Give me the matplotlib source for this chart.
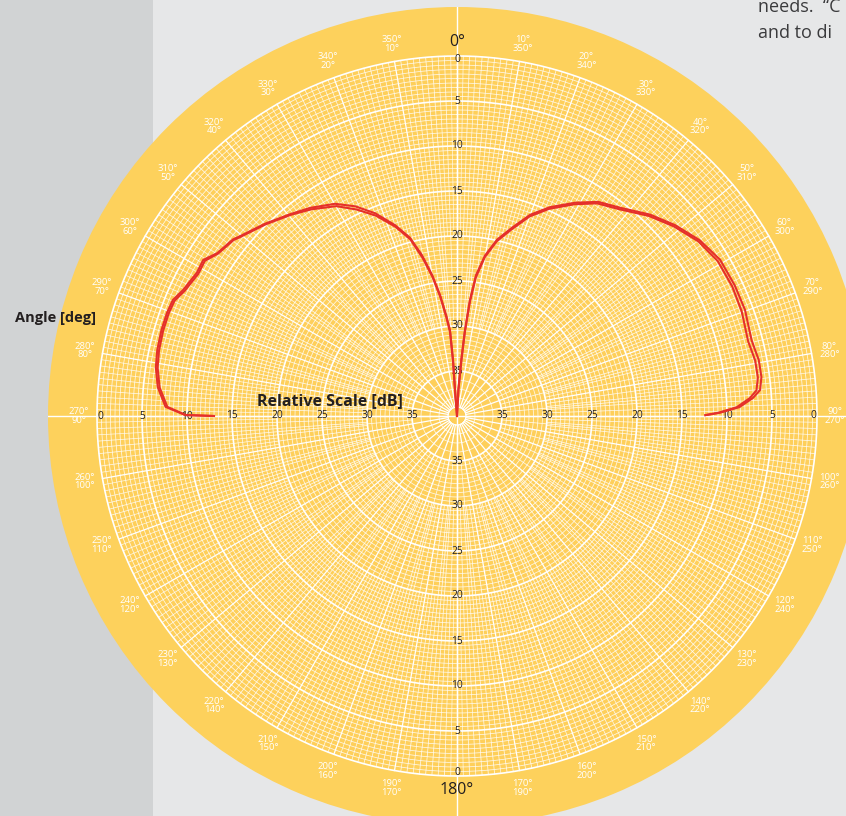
import numpy as np
import matplotlib
matplotlib.use("Agg")
import matplotlib.pyplot as plt
from matplotlib.patches import Rectangle

plt.rcParams["font.family"] = ["Open Sans", "DejaVu Sans"]

# ---- measured pattern (angle in deg, negative = left of boresight; level in dB below peak scale)
left_angle = [-90.0, -89.8, -88.2, -84.5, -80.8, -77.6, -73.8, -70.4, -67.8, -65.3,
              -61.2, -58.4, -55.8, -51.8, -50.3, -45.0, -39.6, -35.2, -29.9, -25.9,
              -22.0, -18.0, -14.8, -12.3, -10.0, -8.0, -6.2, -4.7, -4.1, -4.4, 0.0]
left_db_a = [13.0, 9.8, 7.6, 6.6, 6.1, 5.9, 5.8, 5.8, 5.9, 6.5,
             7.0, 6.9, 7.8, 8.3, 8.7, 9.8, 10.9, 11.7, 12.8, 14.1,
             15.7, 17.7, 19.5, 21.7, 24.1, 26.4, 28.7, 30.4, 33.8, 37.1, 40.0]
left_db_b = [13.0, 9.9, 7.8, 6.8, 6.3, 6.1, 6.0, 6.0, 6.1, 6.7,
             7.2, 7.1, 7.9, 8.4, 8.8, 9.9, 11.0, 11.9, 13.1, 14.5,
             16.0, 17.9, 19.7, 22.0, 24.3, 26.6, 28.9, 30.7, 34.0, 37.3, 40.0]

right_angle = [0.0, 3.0, 4.5, 5.3, 6.4, 7.7, 9.9, 12.8, 16.3, 20.0,
               24.0, 29.0, 33.4, 38.1, 43.8, 48.8, 54.1, 59.3, 64.8, 69.8,
               75.6, 79.5, 82.7, 85.1, 86.5, 88.2, 89.3, 89.8]
right_db_a = [40.0, 37.0, 33.5, 30.4, 27.0, 24.2, 21.9, 19.9, 18.2, 16.2,
              14.6, 12.9, 11.5, 10.6, 9.0, 7.8, 6.7, 6.0, 5.9, 5.9,
              6.2, 5.9, 5.9, 6.2, 7.05, 8.6, 10.8, 12.4]
right_db_b = [40.0, 37.2, 33.8, 30.7, 27.3, 24.5, 22.1, 20.1, 18.4, 16.4,
              14.8, 13.1, 11.7, 10.8, 9.2, 8.0, 6.9, 6.3, 6.2, 6.3,
              6.6, 6.3, 6.3, 6.6, 7.4, 8.9, 11.0, 12.4]

db_ticks = [0, 5, 10, 15, 20, 25, 30, 35]
angle_ticks = list(range(10, 360, 10))

# ---- geometry / colours
W, H = 846, 816
CX, CY = 457, 416          # chart centre, px
R_OUT = 409                # outer yellow disc, px
PX_PER_DB = 9.0
FLOOR = 40.0               # dB at the centre
R_MAX = R_OUT / PX_PER_DB

RING = "#FDD15C"
FILL = "#FECF5A"
WHITE = "#FFFFFF"
RED = "#E5302A"
INK = "#231F20"


def rr(db):
    return FLOOR - np.asarray(db, dtype=float)


fig = plt.figure(figsize=(W / 100, H / 100), dpi=100)
fig.patch.set_facecolor("#E6E7E8")
fig.add_artist(Rectangle((0, 0), 153 / W, 1, transform=fig.transFigure,
                         facecolor="#D1D3D4", edgecolor="none", zorder=0))

ax = fig.add_axes([(CX - R_OUT) / W, (H - CY - R_OUT) / H, 2 * R_OUT / W, 2 * R_OUT / H],
                  projection="polar")
ax.set_theta_zero_location("N")
ax.set_theta_direction(-1)
ax.set_ylim(0, R_MAX)
ax.set_facecolor(RING)
ax.spines["polar"].set_visible(False)
ax.grid(False)
ax.set_xticks([])
ax.set_yticks([])

th = np.linspace(0, 2 * np.pi, 721)
ax.fill_between(th, 0, FLOOR, color=FILL, lw=0, zorder=1)

# ---- grid: rings every 0.5 dB, heavier every 5 dB
for d in np.arange(0, FLOOR, 0.5):
    r = FLOOR - d
    if r < 5 and d % 1:
        continue
    major = d % 5 == 0
    ax.plot(th, np.full_like(th, r), color=WHITE,
            lw=1.2 if major else 0.55, alpha=1 if major else 0.85, zorder=2)
ax.plot(th, np.full_like(th, 1.0), color=WHITE, lw=0.7, zorder=2)

# ---- spokes: density thins toward the centre
for a in range(360):
    if a % 10 == 0:
        r0, lw, al = 1.0, 0.9, 1.0
    elif a % 5 == 0:
        r0, lw, al = 5.0, 0.55, 0.85
    elif a % 2 == 0:
        r0, lw, al = 10.0, 0.55, 0.85
    else:
        r0, lw, al = 20.0, 0.5, 0.85
    t = np.deg2rad(a)
    ax.plot([t, t], [r0, FLOOR], color=WHITE, lw=lw, alpha=al, zorder=2)

for a in (0, 90, 180, 270):
    t = np.deg2rad(a)
    ax.plot([t, t], [0, R_MAX], color=WHITE, lw=1.0, zorder=3)

# ---- angle labels round the rim
for a in angle_ticks:
    if a == 180:
        continue
    ax.text(np.deg2rad(a), 42.0, f"{a}°\n{360 - a}°", color=WHITE, fontsize=6.8,
            ha="center", va="center", linespacing=0.95, zorder=4)
ax.text(0, 41.5, "0°", color=INK, fontsize=11.5, ha="center", va="center", zorder=4)
ax.text(np.pi, 41.5, "180°", color=INK, fontsize=11.5, ha="center", va="center", zorder=4)

# ---- dB labels along the four axes
for d in db_ticks:
    r = FLOOR - d if d else 39.6
    for a in (0, 90, 180, 270):
        ax.text(np.deg2rad(a), r, str(d), color=INK, fontsize=7.4,
                ha="center", va="center", zorder=4)

# ---- pattern traces
for ang, db in ((left_angle, left_db_a), (left_angle, left_db_b),
                (right_angle, right_db_a), (right_angle, right_db_b)):
    ax.plot(np.deg2rad(ang), rr(db), color=RED, lw=1.5, zorder=5,
            solid_joinstyle="round")

fig.text(330 / W, 1 - 401 / H, "Relative Scale [dB]", fontsize=11.5, fontweight="bold",
         color=INK, ha="center", va="center")
fig.text(55 / W, 1 - 318 / H, "Angle [deg]", fontsize=10.5, fontweight="bold",
         color=INK, ha="center", va="center")
fig.text(758 / W, 1 - 7 / H, "needs.  “C", fontsize=13, color="#3A3A3C",
         ha="left", va="center")
fig.text(758 / W, 1 - 33 / H, "and to di", fontsize=13, color="#3A3A3C",
         ha="left", va="center")

fig.savefig("out.png", dpi=100, facecolor=fig.get_facecolor())
